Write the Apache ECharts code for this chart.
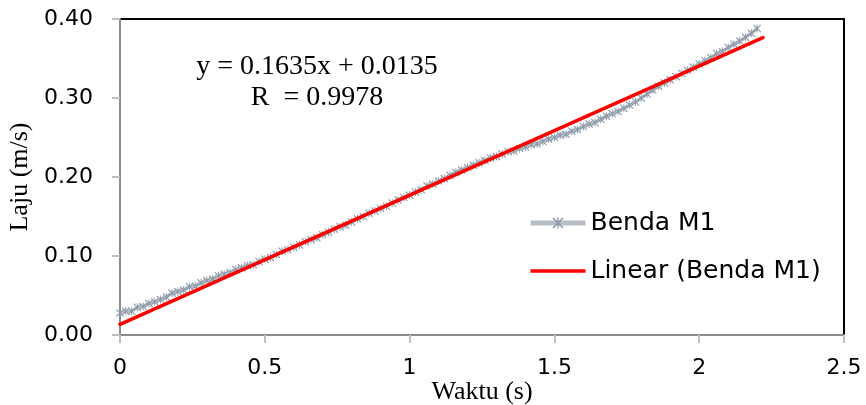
<!DOCTYPE html>
<html>
<head>
<meta charset="utf-8">
<script src="https://cdn.jsdelivr.net/npm/echarts@6/dist/echarts.min.js"></script>
<style>html,body{margin:0;padding:0;background:#fff;}#c{width:866px;height:405px;}</style>
</head>
<body>
<div id="c"></div>
<script>
var timeS = [0.00,0.02,0.04,0.06,0.08,0.10,0.12,0.14,0.16,0.18,0.20,0.22,0.24,0.26,0.28,0.30,0.32,0.34,0.36,0.38,0.40,0.42,0.44,0.46,0.48,0.50,0.52,0.54,0.56,0.58,0.60,0.62,0.64,0.66,0.68,0.70,0.72,0.74,0.76,0.78,0.80,0.82,0.84,0.86,0.88,0.90,0.92,0.94,0.96,0.98,1.00,1.02,1.04,1.06,1.08,1.10,1.12,1.14,1.16,1.18,1.20,1.22,1.24,1.26,1.28,1.30,1.32,1.34,1.36,1.38,1.40,1.42,1.44,1.46,1.48,1.50,1.52,1.54,1.56,1.58,1.60,1.62,1.64,1.66,1.68,1.70,1.72,1.74,1.76,1.78,1.80,1.82,1.84,1.86,1.88,1.90,1.92,1.94,1.96,1.98,2.00,2.02,2.04,2.06,2.08,2.10,2.12,2.14,2.16,2.18,2.20];
var speedM1 = [0.028,0.030,0.030,0.035,0.036,0.040,0.042,0.045,0.048,0.053,0.055,0.057,0.061,0.062,0.066,0.069,0.071,0.075,0.077,0.079,0.083,0.085,0.088,0.089,0.093,0.096,0.098,0.102,0.106,0.108,0.111,0.114,0.118,0.121,0.123,0.127,0.130,0.134,0.137,0.139,0.143,0.147,0.150,0.154,0.157,0.160,0.163,0.167,0.171,0.174,0.177,0.181,0.184,0.189,0.191,0.195,0.198,0.202,0.206,0.209,0.212,0.215,0.218,0.221,0.224,0.226,0.229,0.232,0.233,0.236,0.238,0.241,0.242,0.245,0.248,0.250,0.253,0.254,0.258,0.260,0.264,0.267,0.269,0.273,0.277,0.280,0.283,0.287,0.291,0.295,0.300,0.305,0.310,0.315,0.319,0.323,0.327,0.331,0.335,0.339,0.343,0.347,0.351,0.356,0.359,0.364,0.368,0.372,0.377,0.382,0.388];
var trendX = [0, 2.22];
var trendY = [0.0135, 0.3765];
var seriesNames = ['Benda M1', 'Linear (Benda M1)'];
var xTitle = 'Waktu (s)';
var yTitle = 'Laju (m/s)';
var eqLine1 = 'y = 0.1635x + 0.0135';
var eqLine2 = 'R  = 0.9978';

var sans = 'DejaVu Sans';
var serif = 'Liberation Serif';
var star = 'path://M0,1 L1,0 L5,4 L9,0 L10,1 L6,5 L10,9 L9,10 L5,6 L1,10 L0,9 L4,5 Z M4.4,0 L5.6,0 L5.6,10 L4.4,10 Z';
var bar = 'path://M0,0 L16,0 L16,1 L0,1 Z';

var chart = echarts.init(document.getElementById('c'), null, {renderer: 'canvas'});
chart.setOption({
  animation: false,
  backgroundColor: '#fff',
  grid: {left: 120, top: 19, width: 724, height: 316, show: true, borderColor: '#000', borderWidth: 2, containLabel: false, outerBoundsMode: 'none'},
  xAxis: {
    type: 'value', min: 0, max: 2.5, interval: 0.5,
    name: xTitle, nameLocation: 'middle', nameGap: 44, nameMoveOverlap: false,
    nameTextStyle: {fontFamily: serif, fontSize: 26, color: '#000'},
    axisLine: {show: true, onZero: false, lineStyle: {color: '#8c8c8c', width: 2}},
    axisTick: {show: true, inside: false, length: 8, lineStyle: {color: '#bfbfbf', width: 2}},
    axisLabel: {fontFamily: sans, fontSize: 22, color: '#000', margin: 22},
    splitLine: {show: false}
  },
  yAxis: {
    type: 'value', min: 0, max: 0.4, interval: 0.1,
    name: yTitle, nameLocation: 'middle', nameGap: 86, nameRotate: 90,
    nameTextStyle: {fontFamily: serif, fontSize: 26, color: '#000'},
    axisLine: {show: true, onZero: false, lineStyle: {color: '#8c8c8c', width: 2}},
    axisTick: {show: true, inside: false, length: 8, lineStyle: {color: '#bfbfbf', width: 2}},
    axisLabel: {fontFamily: sans, fontSize: 22, color: '#000', margin: 27, formatter: function (v) { return v.toFixed(2); }},
    splitLine: {show: false}
  },
  legend: {
    orient: 'vertical', left: 528, top: 209, padding: 0, itemWidth: 55, itemHeight: 14, itemGap: 20,
    textStyle: {fontFamily: sans, fontSize: 25, color: '#000', lineHeight: 28},
    data: [
      {name: seriesNames[0], lineStyle: {width: 5, color: '#b7bdc5'}},
      {name: seriesNames[1], icon: bar, itemStyle: {color: '#ff0000'}}
    ]
  },
  series: [
    {
      name: seriesNames[0], type: 'line',
      data: timeS.map(function (t, i) { return [t, speedM1[i]]; }),
      symbol: star, symbolSize: 8, showSymbol: true,
      lineStyle: {color: '#b7bdc5', width: 3},
      itemStyle: {color: '#8d9aaa'},
      z: 2
    },
    {
      name: seriesNames[1], type: 'line',
      data: trendX.map(function (t, i) { return [t, trendY[i]]; }),
      symbol: 'none', showSymbol: false,
      lineStyle: {color: '#ff0000', width: 3.5, cap: 'round'},
      itemStyle: {color: '#ff0000'},
      z: 3
    }
  ],
  graphic: [
    {type: 'text', x: 317, y: 67, style: {text: eqLine1, font: '28px "Liberation Serif"', fill: '#000', align: 'center', verticalAlign: 'middle'}},
    {type: 'text', x: 317, y: 98, style: {text: eqLine2, font: '28px "Liberation Serif"', fill: '#000', align: 'center', verticalAlign: 'middle'}}
  ]
});
</script>
</body>
</html>
